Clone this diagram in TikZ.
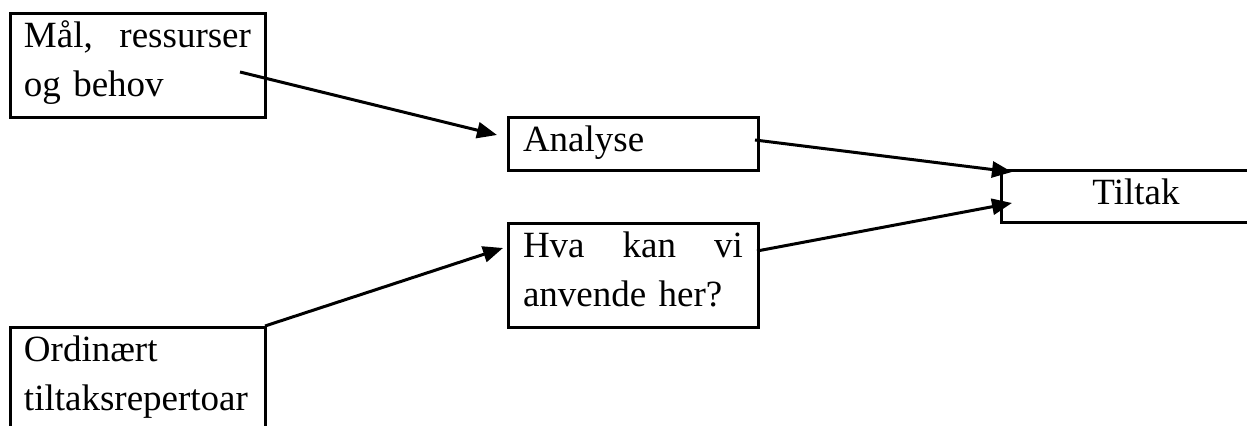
\documentclass[tikz,border=0pt]{standalone}
\usepackage{fontspec}
\setmainfont{Liberation Serif}
\usetikzlibrary{arrows.meta}

\tikzset{
	boks/.style={draw, rectangle, line width=1.5pt, anchor=north west, outer sep=0pt, inner xsep=7.5pt, inner ysep=5pt, text height=12pt, align=left, font=\fontsize{18.5}{24.5}\selectfont},
	tolinjer/.style={text depth=30pt}
}

\begin{document}
\begin{tikzpicture}[x=0.5pt, y=-0.5pt, line width=1.5pt, >={Triangle[length=10pt, width=8pt]}]
				\path[use as bounding box, clip] (0, 0) rectangle (1247, 426);
				\node[boks, tolinjer, inner xsep=7pt, text width=113.5pt] (mal)at(10, 14) {Mål,\hfill ressurser\\og behov};
				\node[boks, text depth=4.5pt, text width=110pt] (analyse)at(508, 118) {Analyse};
				\node[boks, tolinjer, text width=110pt] (hva)at(508, 224) {Hva\hfill kan\hfill vi\\anvende her?};
				\node[boks, text depth=4pt, text width=120pt, align=center] (tiltak)at(1001, 171) {Tiltak};
				\node[boks, tolinjer, inner xsep=7pt, text width=113.5pt] (ordinaert)at(10, 328) {Ordinært\\tiltaksrepertoar};
				\draw[->] ([shift={(-25, 6)}]mal.east) -- ([shift={(-11, -9.5)}]analyse.west);
				\draw[->] ([shift={(-3, -4.5)}]analyse.east) -- ([shift={(11, 1)}]tiltak.north west);
				\draw[->] ([shift={(-1, -25)}]hva.east) -- ([shift={(11, 32)}]tiltak.north west);
				\draw[->] ([shift={(0, -2)}]ordinaert.north east) -- ([shift={(-5, -28)}]hva.west);
			\end{tikzpicture}
\end{document}
